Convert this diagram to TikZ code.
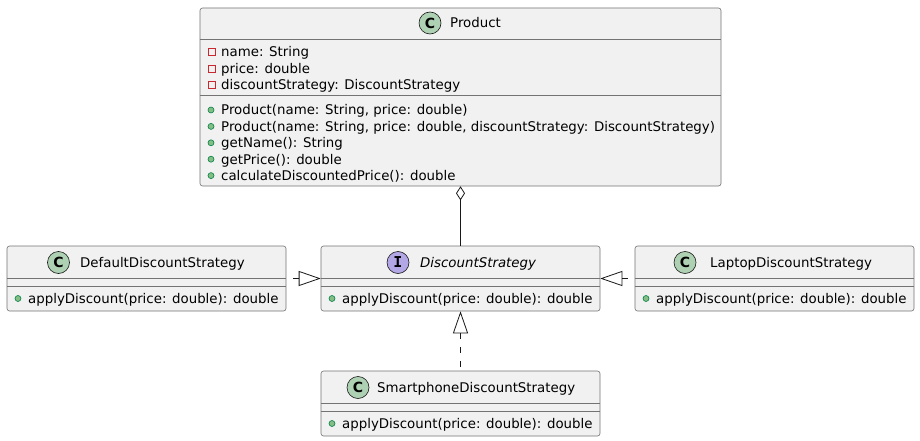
\documentclass[tikz,border=0pt]{standalone}
\usepackage{fontspec}
\setmainfont{DejaVu Sans}
\newfontfamily\spotfont{DejaVu Sans}
\newfontfamily\ispotfont{DejaVu Sans Mono}
\usepackage{xcolor}
\usepackage{tikz}
\usetikzlibrary{arrows.meta}
\definecolor{boxfill}{HTML}{F1F1F1}
\definecolor{boxline}{HTML}{181818}
\definecolor{classgreen}{HTML}{ADD1B2}
\definecolor{ifacepurple}{HTML}{B4A7E5}
\definecolor{pubfill}{HTML}{84BE84}
\definecolor{publine}{HTML}{038048}
\definecolor{privline}{HTML}{C82930}
\tikzset{
    classbox/.style={draw=black!55,fill=boxfill,line width=.6pt,rounded corners=2.5pt,inner sep=0pt},
    sepline/.style={draw=black!55,line width=.6pt},
    spot/.style={circle,draw=boxline,line width=.6pt,minimum size=22pt,inner sep=0pt},
    member/.style={anchor=base west,inner sep=0pt,font=\fontsize{13.35}{16}\selectfont},
    realize/.style={draw=boxline,line width=.8pt,dash pattern=on 6pt off 8pt,{Triangle[open,length=22pt,width=15pt]}-},
}
\newcommand{\PrivIcon}[1]{\draw[privline,line width=.7pt] ([shift={(-12.5,-8.5)}]#1) rectangle ++(7,7);}
\newcommand{\PubIcon}[1]{\filldraw[fill=pubfill,draw=publine,line width=.6pt] ([shift={(-10,-5)}]#1) circle (3pt);}

\begin{document}
\begin{tikzpicture}[x=1pt,y=-1pt]
        \path[fill=white] (0,0) rectangle (920,441);
        \useasboundingbox (0,0) rectangle (920,441);
        % class boxes
        \node[classbox,minimum width=521pt,minimum height=178pt] (product) at (460.5,97) {};
        \node[classbox,minimum width=279pt,minimum height=65pt] (default) at (146.5,278.5) {};
        \node[classbox,minimum width=279pt,minimum height=65pt] (strategy) at (460.5,278.5) {};
        \node[classbox,minimum width=279pt,minimum height=65pt] (laptop) at (774.5,278.5) {};
        \node[classbox,minimum width=279pt,minimum height=65pt] (smartphone) at (460.5,403.5) {};
        % compartments
        \draw[sepline] (product.west |- 0,39) -- (product.east |- 0,39);
        \draw[sepline] (product.west |- 0,95) -- (product.east |- 0,95);
        \draw[sepline] (default.west |- 0,278) -- (default.east |- 0,278);
        \draw[sepline] (default.west |- 0,286) -- (default.east |- 0,286);
        \draw[sepline] (strategy.west |- 0,278) -- (strategy.east |- 0,278);
        \draw[sepline] (strategy.west |- 0,286) -- (strategy.east |- 0,286);
        \draw[sepline] (laptop.west |- 0,278) -- (laptop.east |- 0,278);
        \draw[sepline] (laptop.west |- 0,286) -- (laptop.east |- 0,286);
        \draw[sepline] (smartphone.west |- 0,403) -- (smartphone.east |- 0,403);
        \draw[sepline] (smartphone.west |- 0,411) -- (smartphone.east |- 0,411);
        % headers
        \node[spot,fill=classgreen,font=\spotfont\bfseries\fontsize{14}{14}\selectfont] (productspot) at (430,23) {C};
        \node[member] (producttitle) at (450,28) {Product};
        \node[spot,fill=classgreen,font=\spotfont\bfseries\fontsize{14}{14}\selectfont] (defaultspot) at (58.5,262.5) {C};
        \node[member] (defaulttitle) at (80,267.5) {DefaultDiscountStrategy};
        \node[spot,fill=ifacepurple,font=\ispotfont\bfseries\fontsize{15}{15}\selectfont] (strategyspot) at (398,262.5) {I};
        \node[member,font=\fontsize{13.35}{16}\itshape\selectfont] (strategytitle) at (420,267.5) {DiscountStrategy};
        \node[spot,fill=classgreen,font=\spotfont\bfseries\fontsize{14}{14}\selectfont] (laptopspot) at (685,262.5) {C};
        \node[member] (laptoptitle) at (710,267.5) {LaptopDiscountStrategy};
        \node[spot,fill=classgreen,font=\spotfont\bfseries\fontsize{14}{14}\selectfont] (smartphonespot) at (358,387.5) {C};
        \node[member] (smartphonetitle) at (377,392.5) {SmartphoneDiscountStrategy};
        % Product members
        \node[member] (pname) at (221,57) {name: String};
        \node[member] (pprice) at (221,73.4) {price: double};
        \node[member] (pstrategy) at (221,89.8) {discountStrategy: DiscountStrategy};
        \node[member] (pctor) at (221,115) {Product(name: String, price: double)};
        \node[member] (pctorfull) at (221,131.4) {Product(name: String, price: double, discountStrategy: DiscountStrategy)};
        \node[member] (pgetname) at (221,147.8) {getName(): String};
        \node[member] (pgetprice) at (221,164.2) {getPrice(): double};
        \node[member] (pcalc) at (221,180.6) {calculateDiscountedPrice(): double};
        \PrivIcon{pname.base west}
        \PrivIcon{pprice.base west}
        \PrivIcon{pstrategy.base west}
        \PubIcon{pctor.base west}
        \PubIcon{pctorfull.base west}
        \PubIcon{pgetname.base west}
        \PubIcon{pgetprice.base west}
        \PubIcon{pcalc.base west}
        % applyDiscount rows
        \node[member] (defaultapply) at (28,303.5) {applyDiscount(price: double): double};
        \node[member] (strategyapply) at (342,303.5) {applyDiscount(price: double): double};
        \node[member] (laptopapply) at (656,303.5) {applyDiscount(price: double): double};
        \node[member] (smartphoneapply) at (342,428.5) {applyDiscount(price: double): double};
        \PubIcon{defaultapply.base west}
        \PubIcon{strategyapply.base west}
        \PubIcon{laptopapply.base west}
        \PubIcon{smartphoneapply.base west}
        % relations
        \draw[boxline,line width=.8pt,{Diamond[open,length=14pt,width=9pt]}-] (product) -- (strategy);
        \draw[realize] (strategy) -- (default);
        \draw[realize] (strategy) -- (laptop);
        \draw[realize] (strategy) -- (smartphone);
    \end{tikzpicture}
\end{document}
